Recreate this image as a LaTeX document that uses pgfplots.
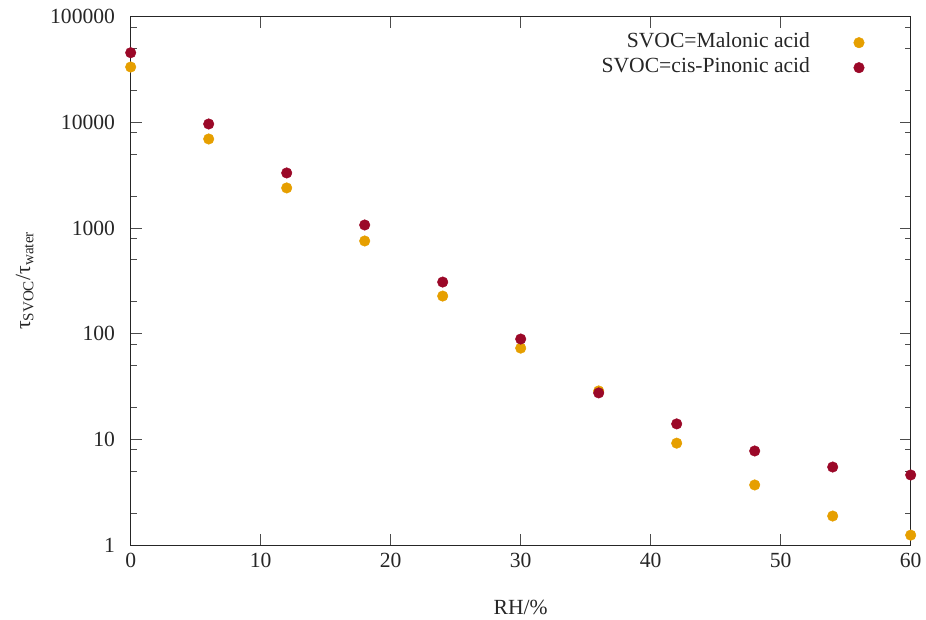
\documentclass[border=0pt]{standalone}
\usepackage{fontspec}
\setmainfont{Liberation Serif}
\usepackage{pgfplots}
\pgfplotsset{compat=1.18}

\definecolor{malonic}{RGB}{230,159,0}
\definecolor{pinonic}{RGB}{155,8,40}

\begin{document}
\fontsize{21.6pt}{26pt}\selectfont
\begin{tikzpicture}
\path[use as bounding box] (0pt,0pt) rectangle (926pt,620pt);
\begin{axis}[
    at={(130.7pt,75pt)}, anchor=south west,
    scale only axis,
    width=780pt, height=528.3pt,
    ymode=log,
    xmin=0, xmax=60,
    ymin=1, ymax=100000,
    xtick={0,10,...,60},
    ytick={1,10,100,1000,10000,100000},
    yticklabels={1,10,100,1000,10000,100000},
    minor ytick={2,5,8,20,50,80,200,500,800,2000,5000,8000,20000,50000,80000},
    tick align=inside,
    major tick length=11pt,
    minor tick length=6pt,
    axis line style={line width=0.9pt, black!85},
    every tick/.style={line width=0.8pt, black!70},
    /pgf/number format/assume math mode=true,
    ticklabel style={font=\fontsize{21.6pt}{26pt}\selectfont, text=black!85},
    yticklabel style={inner sep=0pt, xshift=-15.5pt},
    xticklabel style={inner sep=0pt, yshift=-8pt},
    xlabel={RH/\%},
    ylabel={τ\textsubscript{SVOC}/τ\textsubscript{water}},
    label style={font=\fontsize{21.6pt}{26pt}\selectfont, text=black!85},
    xlabel style={at={(axis description cs:0.5,-0.1173)}, anchor=center},
    ylabel style={at={(axis description cs:-0.1359,0.5)}, anchor=center},
    clip=false,
    legend plot pos=right,
    legend cell align=right,
    legend image code/.code={
        \path[draw=none, fill=none] (0pt,-5pt) rectangle (55pt,5pt);
        \draw[#1] plot coordinates {(49pt,0pt)};
    },
    legend style={
        at={(axis cs:56.5,70900)}, anchor=north east,
        draw=none, fill=none, inner sep=0pt,
        font=\fontsize{21.6pt}{26pt}\selectfont, text=black!85,
        row sep=5pt, column sep=0pt,
        nodes={inner sep=0pt, text height=15pt, text depth=5pt},
    },
]
\addplot[only marks, color=malonic, mark=*, mark size=5.3pt, mark options={draw=malonic, fill=malonic}]
    coordinates {
        (0,33400) (6,6960) (12,2395) (18,754) (24,227) (30,73)
        (36,28.7) (42,9.2) (48,3.7) (54,1.88) (60,1.24)
    };
\addlegendentry{SVOC=Malonic acid}
\addplot[only marks, color=pinonic, mark=*, mark size=5.3pt, mark options={draw=pinonic, fill=pinonic}]
    coordinates {
        (0,45600) (6,9650) (12,3320) (18,1068) (24,308) (30,89)
        (36,27.5) (42,14.0) (48,7.76) (54,5.47) (60,4.6)
    };
\addlegendentry{SVOC=cis-Pinonic acid}
\end{axis}
\end{tikzpicture}
\end{document}
